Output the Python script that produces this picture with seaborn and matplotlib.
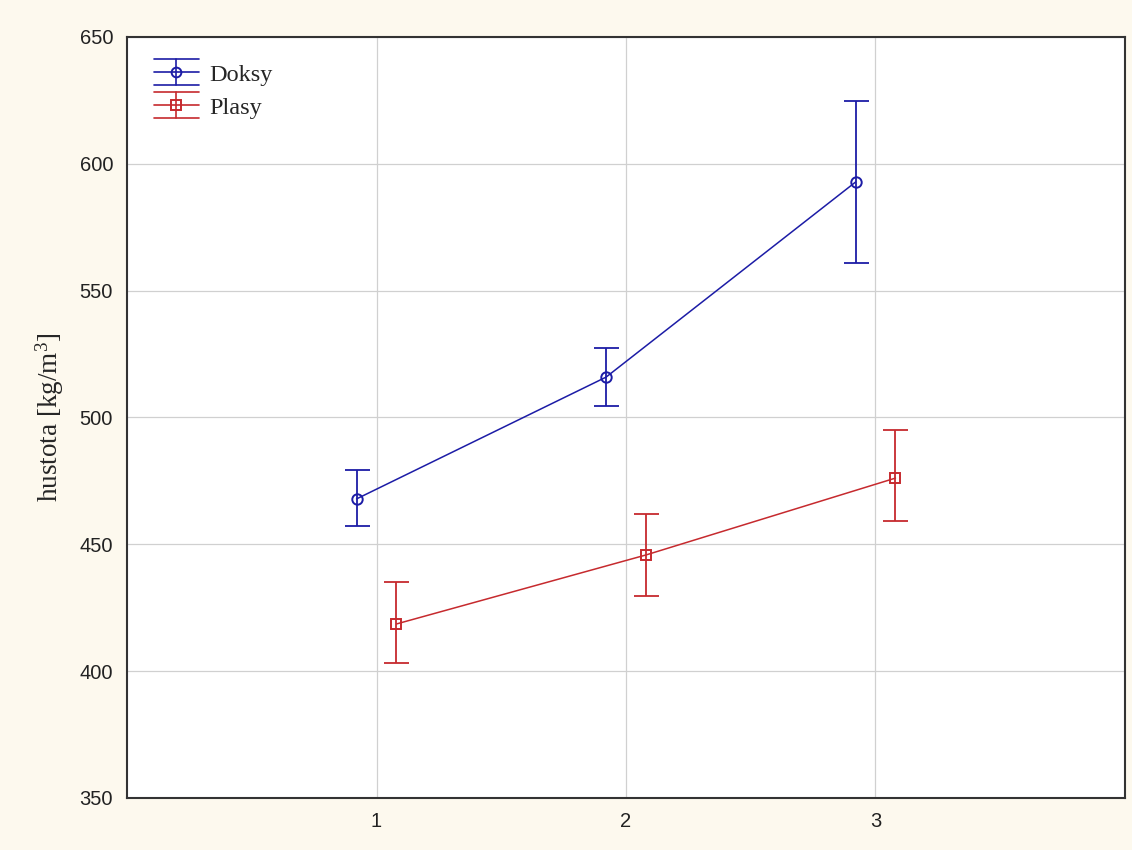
import matplotlib
matplotlib.use("Agg")
import matplotlib.pyplot as plt
from matplotlib.legend_handler import HandlerBase
from matplotlib.lines import Line2D
import seaborn as sns
import pandas as pd

# Mean density with confidence limits per category and site
categories = [1, 2, 3]
doksy_mean = [467.9, 515.9, 592.8]
doksy_low = [457.2, 504.5, 560.9]
doksy_high = [479.3, 527.4, 624.7]
plasy_mean = [418.6, 445.8, 476.1]
plasy_low = [403.2, 429.6, 459.2]
plasy_high = [435.1, 461.9, 495.1]
series_names = ["Doksy", "Plasy"]
y_ticks = [350, 400, 450, 500, 550, 600, 650]

sns.set_style("white")
plt.rcParams["font.family"] = ["Liberation Sans", "DejaVu Sans"]
plt.rcParams["mathtext.fontset"] = "custom"
plt.rcParams["mathtext.rm"] = "Liberation Serif"
plt.rcParams["mathtext.it"] = "Liberation Serif:italic"

fig = plt.figure(figsize=(11.32, 8.5), dpi=100, facecolor="#fdf9ee")
ax = fig.add_axes([0.1122, 0.0612, 0.8816, 0.8953])
ax.set_facecolor("white")

shift = 0.08
rows = []
for name, means, lows, highs, dx in [
    (series_names[0], doksy_mean, doksy_low, doksy_high, -shift),
    (series_names[1], plasy_mean, plasy_low, plasy_high, shift),
]:
    for c, m, lo, hi in zip(categories, means, lows, highs):
        rows.append({"site": name, "x": c + dx, "mean": m, "low": lo, "high": hi})
df = pd.DataFrame(rows)

colors = {"Doksy": "#1c1ca6", "Plasy": "#c62a2e"}
markers = {"Doksy": "o", "Plasy": "s"}

for name in series_names:
    sub = df[df["site"] == name]
    sns.lineplot(data=sub, x="x", y="mean", ax=ax, color=colors[name],
                 linewidth=1.1, legend=False)
    ax.errorbar(sub["x"], sub["mean"],
                yerr=[sub["mean"] - sub["low"], sub["high"] - sub["mean"]],
                fmt="none", ecolor=colors[name],
                elinewidth=1.3, capsize=9, capthick=1.3)
    ax.plot(sub["x"], sub["mean"], linestyle="none", marker=markers[name],
            markersize=7.5 if name == "Doksy" else 7, markerfacecolor="none",
            markeredgecolor=colors[name], markeredgewidth=1.4, zorder=5)


class SiteKey:
    def __init__(self, color, marker):
        self.color = color
        self.marker = marker


class SiteKeyHandler(HandlerBase):
    def create_artists(self, legend, orig_handle, xdescent, ydescent,
                       width, height, fontsize, trans):
        c = orig_handle.color
        x0, x1 = -xdescent, -xdescent + width
        xm = (x0 + x1) / 2
        cy = height / 2 - ydescent
        half = 9.3
        arts = [
            Line2D([x0, x1], [cy, cy], color=c, lw=1.2),
            Line2D([x0, x1], [cy + half, cy + half], color=c, lw=1.2),
            Line2D([x0, x1], [cy - half, cy - half], color=c, lw=1.2),
            Line2D([xm, xm], [cy - half, cy + half], color=c, lw=1.2),
            Line2D([xm], [cy], color=c, marker=orig_handle.marker,
                   markersize=7, markerfacecolor="none", markeredgewidth=1.4,
                   linestyle="none"),
        ]
        for a in arts:
            a.set_transform(trans)
        return arts


ax.set_xlim(0, 4)
ax.set_ylim(350, 650)
ax.set_xticks(categories)
ax.set_xticklabels([str(c) for c in categories])
ax.set_yticks(y_ticks)
ax.grid(True, color="#d0d0d0", linewidth=0.9)
ax.set_axisbelow(True)
for s in ax.spines.values():
    s.set_color("#333333")
    s.set_linewidth(1.5)
ax.tick_params(axis="both", labelsize=14.5, length=4, width=1, direction="inout",
               colors="#222222", pad=8)
ax.set_xlabel("")
ax.set_ylabel("hustota [kg/m$^3$]", fontsize=19.5, family="Liberation Serif",
              labelpad=10)

keys = [SiteKey(colors[n], markers[n]) for n in series_names]
ax.legend(handles=keys, labels=series_names, loc="upper left",
          handler_map={SiteKey: SiteKeyHandler()},
          frameon=False, prop={"family": "Liberation Serif", "size": 17.5},
          handlelength=1.85, handletextpad=0.45, borderaxespad=0.7,
          labelspacing=0.45)

fig.savefig("out.png", dpi=100, facecolor=fig.get_facecolor())
